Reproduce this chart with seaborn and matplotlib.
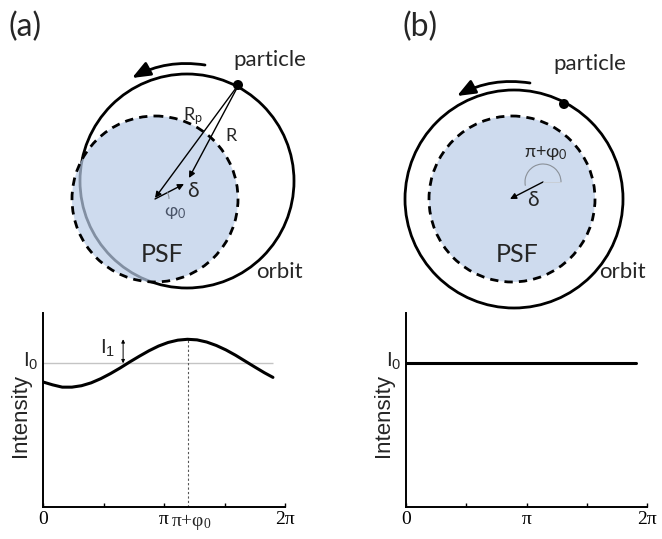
import numpy as np
import matplotlib.pyplot as plt
from matplotlib.patches import Circle, Arc, FancyArrowPatch
import seaborn as sns

sns.set_theme(style="white")
plt.rcParams['font.family'] = ['Lato', 'DejaVu Sans']

# intensity along the orbit, panel (a): off-centre particle
phase_a = [0, 0.25, 0.5, 0.75, 1.0, 1.25, 1.5, 1.75, 2.0, 2.25, 2.5, 2.75, 3.0,
           3.25, 3.5, 3.75, 4.0, 4.25, 4.5, 4.75, 5.0, 5.25, 5.5, 5.75, 5.97]
intensity_a = [0.87, 0.85, 0.834, 0.834, 0.844, 0.864, 0.893, 0.928, 0.967, 1.009,
               1.049, 1.087, 1.12, 1.145, 1.161, 1.167, 1.163, 1.148, 1.124, 1.093,
               1.056, 1.015, 0.974, 0.934, 0.902]
# panel (b): centred particle -> flat intensity
phase_b = [0, 5.99]
intensity_b = [1.0, 1.0]

I0 = 1.0
peak_phase = 3.77          # pi + phi0
peak_intensity = 1.167
i1_phase = 2.08
tick_pos = [0, np.pi / 2, np.pi, 3 * np.pi / 2, 2 * np.pi]
tick_lab = ['0', '', 'π', '', '2π']

fig = plt.figure(figsize=(6.62, 5.39), dpi=100)

# ---- top schematic, drawn in pixel coordinates ----
top = fig.add_axes([0, 0, 1, 1])
top.set_xlim(0, 662)
top.set_ylim(539, 0)
top.axis('off')

psf_color = '#bacde8'


def arrow(ax, tail, head, lw=1.0, ms=9, style='-|>', color='black'):
    ax.annotate('', xy=head, xytext=tail,
                arrowprops=dict(arrowstyle=style, lw=lw, color=color,
                                mutation_scale=ms, shrinkA=0, shrinkB=0))


def orbit_arrow(ax, tail, head):
    ax.add_patch(FancyArrowPatch(tail, head, connectionstyle='arc3,rad=0.17',
                                 arrowstyle='-|>,head_length=1.0,head_width=0.4',
                                 mutation_scale=11, lw=2, color='black',
                                 shrinkA=0, shrinkB=0))


# panel (a)
top.add_patch(Circle((187, 181), 107, fill=False, ec='black', lw=2, zorder=1))
top.add_patch(Circle((155, 199), 83, fc=psf_color, ec='none', alpha=0.7, zorder=2))
top.add_patch(Circle((155, 199), 83, fill=False, ec='black', lw=2,
                     ls=(0, (3, 2.2)), zorder=3))
top.add_patch(Circle((238, 85), 5, fc='black', ec='none', zorder=5))
arrow(top, (236, 88), (155, 198))
arrow(top, (237, 88), (189, 178))
arrow(top, (155, 199), (184, 184))
top.add_patch(Arc((155, 199), 28, 28, theta1=-28, theta2=0, color='#8a929c', lw=0.8, zorder=4))
orbit_arrow(top, (205, 65), (132, 78))
top.text(25, 27, '(a)', fontsize=23, ha='center', va='center')
top.text(270, 60, 'particle', fontsize=16, ha='center', va='center')
top.text(193, 116, r'$\mathregular{R_p}$', fontsize=13, ha='center', va='center')
top.text(231, 136, 'R', fontsize=13, ha='center', va='center')
top.text(193, 191, 'δ', fontsize=15, ha='center', va='center')
top.text(175, 213, r'$\mathregular{φ_0}$', fontsize=13, ha='center', va='center', color='#4a5468')
top.text(162, 255, 'PSF', fontsize=18, ha='center', va='center')
top.text(279, 272, 'orbit', fontsize=16, ha='center', va='center')

# panel (b)
top.add_patch(Circle((514, 199), 109, fill=False, ec='black', lw=2, zorder=1))
top.add_patch(Circle((512, 199), 83, fc=psf_color, ec='none', alpha=0.7, zorder=2))
top.add_patch(Circle((512, 199), 83, fill=False, ec='black', lw=2,
                     ls=(0, (3, 2.2)), zorder=3))
top.add_patch(Circle((564, 104), 5, fc='black', ec='none', zorder=5))
arrow(top, (543, 182), (510, 199))
top.add_patch(Arc((543, 182), 36, 36, theta1=-192, theta2=0, color='#8a9098', lw=0.8, zorder=4))
top.plot([543, 561], [182, 182], color='#c8ccd2', lw=0.6, zorder=4)
orbit_arrow(top, (530, 83), (457, 96))
top.text(420, 27, '(b)', fontsize=23, ha='center', va='center')
top.text(590, 64, 'particle', fontsize=16, ha='center', va='center')
top.text(546, 153, r'$\mathregular{π{+}φ_0}$', fontsize=13, ha='center', va='center')
top.text(533, 200, 'δ', fontsize=15, ha='center', va='center')
top.text(517, 254, 'PSF', fontsize=18, ha='center', va='center')
top.text(622, 272, 'orbit', fontsize=16, ha='center', va='center')

# ---- bottom intensity plots ----
serif = 'Liberation Serif'
sans = 'Liberation Sans'


def style_axes(ax):
    ax.set_xlim(0, 2 * np.pi)
    ax.set_ylim(0, 1.35)
    ax.set_facecolor('none')
    for side in ['top', 'right']:
        ax.spines[side].set_visible(False)
    for side in ['left', 'bottom']:
        ax.spines[side].set_color('black')
        ax.spines[side].set_linewidth(1.4)
    ax.set_xticks(tick_pos)
    ax.set_xticklabels(tick_lab, family=serif, fontsize=14)
    ax.set_yticks([])
    ax.tick_params(axis='x', direction='in', length=3, width=1, pad=3,
                   bottom=True, colors='black')
    ax.set_xlabel('')
    ax.set_ylabel('Intensity', family=sans, fontsize=16)
    ax.yaxis.set_label_coords(-0.05, 0.47)
    ax.text(-0.02, 0.975, r'$\mathregular{I_0}$', family=sans, fontsize=15,
            ha='right', va='baseline', transform=ax.get_yaxis_transform())


ax_a = fig.add_axes([43 / 662, 32 / 539, 242 / 662, 194 / 539])
ax_a.hlines(I0, 0, phase_a[-1], color='#c4c4c4', lw=1)
ax_a.vlines(peak_phase, 0, peak_intensity, color='#555555', lw=0.8, linestyles=(0, (2, 2)))
sns.lineplot(x=phase_a, y=intensity_a, ax=ax_a, color='black', lw=2.2)
arrow(ax_a, (i1_phase, I0), (i1_phase, peak_intensity), lw=0.7, ms=5, style='<|-|>')
ax_a.text(1.88, 1.065, r'$\mathregular{I_1}$', family=sans, fontsize=15, ha='right', va='baseline')
ax_a.text(3.86, -0.035, r'$\mathregular{π{+}φ_0}$', family=serif, fontsize=14,
          ha='center', va='top')
style_axes(ax_a)

ax_b = fig.add_axes([406 / 662, 32 / 539, 241 / 662, 194 / 539])
sns.lineplot(x=phase_b, y=intensity_b, ax=ax_b, color='black', lw=2.2)
style_axes(ax_b)

fig.savefig('out.png', dpi=100)
